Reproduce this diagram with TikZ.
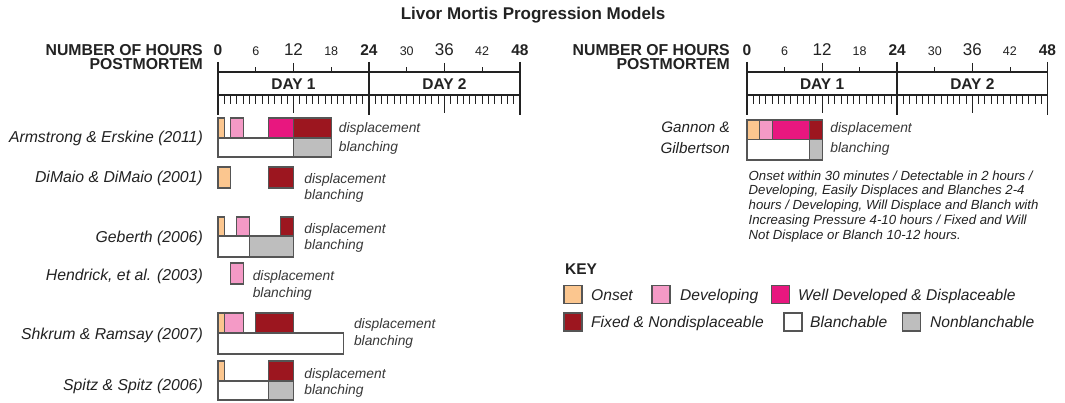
\documentclass[tikz,border=0pt]{standalone}
\usepackage{fontspec}
\setmainfont{Liberation Sans}
\definecolor{onset}{HTML}{FBC68F}
\definecolor{devel}{HTML}{F49AC6}
\definecolor{welldev}{HTML}{E8177F}
\definecolor{fixedc}{HTML}{9C161F}
\definecolor{nonbl}{HTML}{BEBEBE}
\definecolor{edge}{HTML}{555555}
\definecolor{ink}{HTML}{222222}
\tikzset{
  bar/.style={draw=edge, line width=1.1pt},
  axis/.style={line width=1.7pt, draw=ink},
  tick/.style={line width=0.8pt, draw=ink},
  title/.style={font=\fontsize{17}{20}\selectfont\bfseries, inner sep=0, text=ink},
  head/.style={font=\fontsize{15.8}{18}\selectfont\bfseries, inner sep=0, anchor=base east, text=ink},
  bnum/.style={font=\fontsize{15.5}{18}\selectfont\bfseries, inner sep=0, text=ink},
  mnum/.style={font=\fontsize{17}{20}\selectfont, inner sep=0, text=ink},
  snum/.style={font=\fontsize{12.5}{15}\selectfont, inner sep=0, text=ink},
  day/.style={font=\fontsize{15.5}{18}\selectfont\bfseries, inner sep=0, text=ink},
  lbl/.style={font=\fontsize{15.8}{18}\selectfont\itshape, inner sep=0, anchor=base east, text=ink},
  glbl/.style={font=\fontsize{15.2}{18}\selectfont\itshape, inner sep=0, anchor=base east, text=ink},
  sm/.style={font=\fontsize{13.8}{16}\selectfont\itshape, inner sep=0, anchor=base west, text=ink!90},
  desc/.style={font=\fontsize{13.2}{14.9}\selectfont\itshape, inner sep=0, anchor=north west, align=left, text=ink},
  keyt/.style={font=\fontsize{15.6}{18}\selectfont\itshape, inner sep=0, anchor=base west, text=ink},
  sw/.style={draw=edge, line width=1.1pt, minimum size=18pt, inner sep=0}
}
\newcommand\mytimeline[3]{%
\begin{scope}[xshift=#1pt, x=#2pt]
  \foreach \h in {1,...,47} \draw[tick] (\h,95) -- (\h,104.5);
  \foreach \h in {12,36} \draw[tick] (\h,95) -- (\h,113) (\h,63) -- (\h,72);
  \foreach \h in {6,18,30,42} \draw[tick] (\h,67.5) -- (\h,72);
  \draw[axis] (0,72) -- (48,72) (0,95) -- (48,95);
  \foreach \h in {0,24,48} \draw[axis] (\h,62) -- (\h,115);
  \foreach \h in {0,24,48} \node[bnum] (#3-n\h) at (\h,50) {\h};
  \foreach \h in {12,36} \node[mnum] (#3-n\h) at (\h,50) {\h};
  \foreach \h in {6,18,30,42} \node[snum] (#3-n\h) at (\h,51) {\h};
  \node[day] (#3-d1) at (12,84) {DAY 1};
  \node[day] (#3-d2) at (36,84) {DAY 2};
\end{scope}}
\begin{document}
\begin{tikzpicture}[x=1pt,y=-1pt]
\useasboundingbox[fill=white] (0,0) rectangle (1065,403);
\node[title] (title) at (533,15) {Livor Mortis Progression Models};

% ---------- left panel ----------
\node[head] (hL1) at (203,55.6) {NUMBER OF HOURS};
\node[head] (hL2) at (203,69.8) {POSTMORTEM};
\mytimeline{218}{6.29}{L}

\node[lbl] (armL) at (203,142.3) {Armstrong \& Erskine (2011)};
\node[lbl] (dimL) at (203,182.3) {DiMaio \& DiMaio (2001)};
\node[lbl] (gebL) at (203,242.3) {Geberth (2006)};
\node[lbl] (henL) at (203,280.3) {Hendrick, et al. (2003)};
\node[lbl] (shkL) at (203,339.8) {Shkrum \& Ramsay (2007)};
\node[lbl] (spiL) at (203,390.3) {Spitz \& Spitz (2006)};

\begin{scope}[xshift=218pt, x=6.29pt]
  % Armstrong & Erskine
  \draw[bar, fill=white] (0,138) rectangle (12,157);
  \draw[bar, fill=nonbl] (12,138) rectangle (18,157);
  \draw[bar, fill=onset] (0,118) rectangle (1,138);
  \draw[bar, fill=devel] (2,118) rectangle (4,138);
  \draw[bar, fill=welldev] (8,118) rectangle (12,138);
  \draw[bar, fill=fixedc] (12,118) rectangle (18,138);
  \node[sm] (armD) at (19.2,132.5) {displacement};
  \node[sm] (armB) at (19.2,151.5) {blanching};
  % DiMaio & DiMaio
  \draw[bar, fill=onset] (0,167) rectangle (2,188);
  \draw[bar, fill=fixedc] (8,167) rectangle (12,188);
  \node[sm] (dimD) at (13.7,183.5) {displacement};
  \node[sm] (dimB) at (13.7,199.5) {blanching};
  % Geberth
  \draw[bar, fill=white] (0,236) rectangle (5,257);
  \draw[bar, fill=nonbl] (5,236) rectangle (12,257);
  \draw[bar, fill=onset] (0,217) rectangle (1,236);
  \draw[bar, fill=devel] (3,217) rectangle (5,236);
  \draw[bar, fill=fixedc] (10,217) rectangle (12,236);
  \node[sm] (gebD) at (13.7,233.5) {displacement};
  \node[sm] (gebB) at (13.7,250) {blanching};
  % Hendrick
  \draw[bar, fill=devel] (2,263) rectangle (4,284);
  \node[sm] (henD) at (5.5,280.5) {displacement};
  \node[sm] (henB) at (5.5,297.5) {blanching};
  % Shkrum & Ramsay
  \draw[bar, fill=white] (0,333) rectangle (20,354);
  \draw[bar, fill=onset] (0,313) rectangle (1,333);
  \draw[bar, fill=devel] (1,313) rectangle (4,333);
  \draw[bar, fill=fixedc] (6,313) rectangle (12,333);
  \node[sm] (shkD) at (21.6,328.5) {displacement};
  \node[sm] (shkB) at (21.6,345.5) {blanching};
  % Spitz & Spitz
  \draw[bar, fill=white] (0,381) rectangle (8,400);
  \draw[bar, fill=nonbl] (8,381) rectangle (12,400);
  \draw[bar, fill=onset] (0,361) rectangle (1,381);
  \draw[bar, fill=fixedc] (8,361) rectangle (12,381);
  \node[sm] (spiD) at (13.7,378) {displacement};
  \node[sm] (spiB) at (13.7,394.5) {blanching};
\end{scope}

% ---------- right panel ----------
\node[head] (hR1) at (730,55.6) {NUMBER OF HOURS};
\node[head] (hR2) at (730,69.8) {POSTMORTEM};
\mytimeline{747}{6.26}{R}

\node[glbl] (ganL1) at (730,133) {Gannon \&};
\node[glbl] (ganL2) at (730,153.5) {Gilbertson};
\begin{scope}[xshift=747pt, x=6.26pt]
  \draw[bar, fill=white] (0,139.5) rectangle (10,160);
  \draw[bar, fill=nonbl] (10,139.5) rectangle (12,160);
  \draw[bar, fill=onset] (0,120) rectangle (2,139.5);
  \draw[bar, fill=devel] (2,120) rectangle (4,139.5);
  \draw[bar, fill=welldev] (4,120) rectangle (10,139.5);
  \draw[bar, fill=fixedc] (10,120) rectangle (12,139.5);
  \node[sm] (ganD) at (13.3,132.5) {displacement};
  \node[sm] (ganB) at (13.3,153) {blanching};
\end{scope}

\node[desc] (desc) at (748.5,170.3) {Onset within 30 minutes / Detectable in 2 hours /\\
Developing, Easily Displaces and Blanches 2-4\\
hours / Developing, Will Displace and Blanch with\\
Increasing Pressure 4-10 hours / Fixed and Will\\
Not Displace or Blanch 10-12 hours.};

% ---------- key ----------
\node[font=\fontsize{15.5}{18}\selectfont\bfseries, inner sep=0, anchor=base west, text=ink] (key) at (565,274.5) {KEY};
\node[sw, fill=onset] (k1) at (573,294.5) {};
\node[keyt] (k1t) at (591,300) {Onset};
\node[sw, fill=devel] (k2) at (661,294.5) {};
\node[keyt] (k2t) at (680,300) {Developing};
\node[sw, fill=welldev] (k3) at (780.5,294.5) {};
\node[keyt] (k3t) at (798,300) {Well Developed \& Displaceable};
\node[sw, fill=fixedc] (k4) at (573,322) {};
\node[keyt] (k4t) at (591,327.5) {Fixed \& Nondisplaceable};
\node[sw, fill=white] (k5) at (793,322) {};
\node[keyt] (k5t) at (810,327.5) {Blanchable};
\node[sw, fill=nonbl] (k6) at (911.5,322) {};
\node[keyt] (k6t) at (930,327.5) {Nonblanchable};
\end{tikzpicture}
\end{document}
